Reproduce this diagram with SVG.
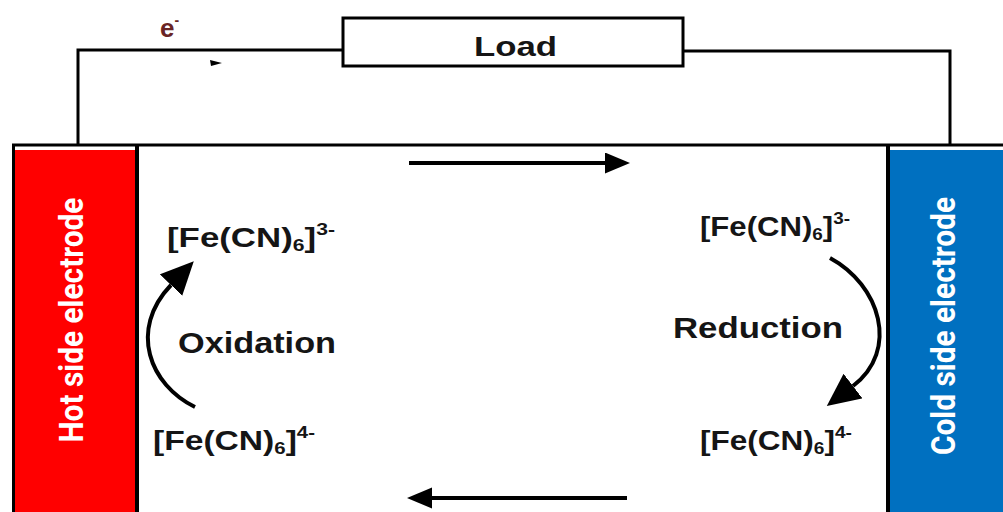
<svg xmlns="http://www.w3.org/2000/svg" width="1003" height="512" viewBox="0 0 1003 512">
  <style>
    .wire { fill: none; stroke: #000; stroke-width: 3; }
    .arrow { fill: none; stroke: #000; stroke-width: 4; }
    .lbl { font-family: "Liberation Sans", Arial, sans-serif; font-weight: bold; fill: #151515; }
    .chem { font-size: 28px; }
    .sm { font-size: 17px; }
    .vert { font-family: Roboto, "Liberation Sans", sans-serif; font-weight: bold; font-size: 34px; fill: #ffffff; text-anchor: middle; }
  </style>
  <defs>
    <marker id="headS" markerUnits="userSpaceOnUse" markerWidth="26" markerHeight="22" refX="0" refY="10.5" orient="auto">
      <path d="M0,0 L25,10.5 L0,21 z" fill="#000"/>
    </marker>
    <marker id="headL" markerUnits="userSpaceOnUse" markerWidth="34" markerHeight="32" refX="0" refY="15.5" orient="auto">
      <path d="M0,0 L33,15.5 L0,31 z" fill="#000"/>
    </marker>
  </defs>
  <rect width="1003" height="512" fill="#fff"/>

  <g id="hot-electrode">
    <rect x="15" y="150" width="121" height="362" fill="#ff0000"/>
    <rect x="12" y="146" width="3" height="366" fill="#000"/>
    <rect x="135" y="146" width="4" height="366" fill="#000"/>
    <text class="vert" transform="translate(83,320) rotate(-90)" textLength="245" lengthAdjust="spacingAndGlyphs">Hot side electrode</text>
  </g>

  <g id="cold-electrode">
    <rect x="889" y="150" width="114" height="362" fill="#0070c0"/>
    <rect x="886" y="146" width="4" height="366" fill="#000"/>
    <text class="vert" transform="translate(955,326) rotate(-90)" textLength="258" lengthAdjust="spacingAndGlyphs">Cold side electrode</text>
  </g>

  <g id="load">
    <rect x="343" y="18" width="340" height="48" fill="#fff" stroke="#000" stroke-width="3"/>
    <text class="lbl" x="474" y="56" font-size="27" textLength="83" lengthAdjust="spacingAndGlyphs">Load</text>
  </g>

  <g id="electron">
    <text x="160" y="37" font-family="Liberation Sans, Arial, sans-serif" font-weight="bold" font-size="26" fill="#6a2424">e<tspan font-size="14" dy="-12">-</tspan></text>
    <polygon points="210,60 222,63 211,66" fill="#000"/>
  </g>

  <g id="connectors">
    <polyline class="wire" points="343,50 78,50 78,145"/>
    <polyline class="wire" points="683,51 950,51 950,145"/>
    <line class="wire" x1="12" y1="145" x2="1003" y2="145"/>
    <line class="arrow" x1="409" y1="163" x2="605" y2="163" marker-end="url(#headS)"/>
    <line class="arrow" x1="627" y1="498" x2="432" y2="498" marker-end="url(#headS)"/>
    <path class="arrow" d="M195,407 C150,385 128,330 171,285" marker-end="url(#headL)"/>
    <path class="arrow" d="M830,258 C880,285 900,350 853,386" marker-end="url(#headL)"/>
  </g>

  <g id="ferri-hot">
    <text class="lbl chem" x="167" y="247" textLength="168" lengthAdjust="spacingAndGlyphs">[Fe(CN)<tspan class="sm" dy="4">6</tspan><tspan dy="-4">]</tspan><tspan class="sm" dy="-12">3-</tspan></text>
  </g>
  <g id="oxidation">
    <text class="lbl" x="178" y="353" font-size="29" textLength="158" lengthAdjust="spacingAndGlyphs">Oxidation</text>
  </g>
  <g id="ferro-hot">
    <text class="lbl chem" x="153" y="450" textLength="162" lengthAdjust="spacingAndGlyphs">[Fe(CN)<tspan class="sm" dy="4">6</tspan><tspan dy="-4">]</tspan><tspan class="sm" dy="-12">4-</tspan></text>
  </g>
  <g id="ferri-cold">
    <text class="lbl chem" x="700" y="236" textLength="150" lengthAdjust="spacingAndGlyphs">[Fe(CN)<tspan class="sm" dy="4">6</tspan><tspan dy="-4">]</tspan><tspan class="sm" dy="-12">3-</tspan></text>
  </g>
  <g id="reduction">
    <text class="lbl" x="673" y="338" font-size="29" textLength="170" lengthAdjust="spacingAndGlyphs">Reduction</text>
  </g>
  <g id="ferro-cold">
    <text class="lbl chem" x="700" y="450" textLength="152" lengthAdjust="spacingAndGlyphs">[Fe(CN)<tspan class="sm" dy="4">6</tspan><tspan dy="-4">]</tspan><tspan class="sm" dy="-12">4-</tspan></text>
  </g>
</svg>
